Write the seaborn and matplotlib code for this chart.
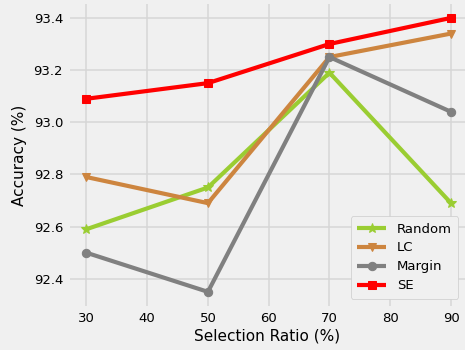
import matplotlib
matplotlib.use("Agg")
import matplotlib.pyplot as plt
import seaborn as sns
import pandas as pd

ratios = [30, 50, 70, 90]
random_acc = [92.59, 92.75, 93.19, 92.69]
lc_acc = [92.79, 92.69, 93.25, 93.34]
margin_acc = [92.50, 92.35, 93.25, 93.04]
se_acc = [93.09, 93.15, 93.30, 93.40]
names = ["Random", "LC", "Margin", "SE"]
colors = ["#9acd32", "#cd853f", "#808080", "#ff0000"]
markers = ["*", "v", "o", "s"]

plt.style.use("fivethirtyeight")
plt.rcParams["font.family"] = ["DejaVu Sans"]

fig = plt.figure(figsize=(4.65, 3.5), dpi=100, facecolor="#f0f0f0")
ax = fig.add_axes([0.1505, 0.127, 0.8495, 0.861])
ax.set_facecolor("#f0f0f0")

series = [random_acc, lc_acc, margin_acc, se_acc]
for name, vals, c, m in zip(names, series, colors, markers):
    df = pd.DataFrame({"x": ratios, "y": vals})
    sns.lineplot(data=df, x="x", y="y", ax=ax, color=c, marker=m,
                 markersize=7 if m == "*" else 6, markeredgecolor=c,
                 linewidth=3, label=name)

ax.set_xlim(27.3, 92.3)
ax.set_ylim(92.2975, 93.4525)
ax.set_xticks([30, 40, 50, 60, 70, 80, 90])
ax.set_yticks([92.4, 92.6, 92.8, 93.0, 93.2, 93.4])
ax.tick_params(labelsize=9.5, length=0, pad=5)
ax.grid(True, color="#d6d6d6", linewidth=1.1)
for s in ax.spines.values():
    s.set_visible(False)
ax.set_xlabel("Selection Ratio (%)", fontsize=11, labelpad=2)
ax.set_ylabel("Accuracy (%)", fontsize=11, labelpad=5)

leg = ax.legend(loc="lower right", fontsize=9.5, frameon=True, fancybox=True,
                facecolor="#f0f0f0", edgecolor="#cccccc", framealpha=1,
                handlelength=2.2, borderpad=0.5, labelspacing=0.45,
                bbox_to_anchor=(1.0, 0.0))

fig.savefig("out.png", dpi=100, facecolor="#f0f0f0")
